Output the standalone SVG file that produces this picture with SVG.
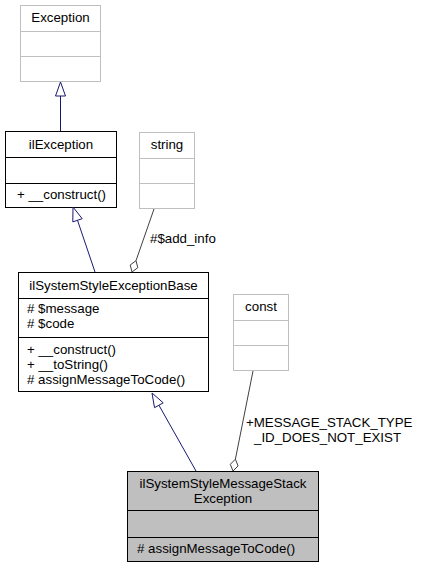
<svg xmlns="http://www.w3.org/2000/svg" width="421" height="568" viewBox="0 0 421 568">
<style>
text{font-family:"Liberation Sans",Arial,sans-serif;font-size:13.3px;fill:#000}
.c{text-anchor:middle}
.gray rect,.gray line{stroke:#bfbfbf;fill:#fff}
.blk rect,.blk line{stroke:#000;fill:#fff}
.sel rect{fill:#bfbfbf;stroke:#000}
.sel line{stroke:#000}
.gen{stroke:#191970;fill:none}
.genh{stroke:#191970;fill:#fff}
.agg{stroke:#404040;fill:none}
.aggh{stroke:#404040;fill:#fff}
</style>
<rect width="421" height="568" fill="#fff"/>
<g id="Exception" class="gray">
<rect x="20.5" y="5.5" width="80" height="76"/>
<line x1="20.5" y1="31.5" x2="100.5" y2="31.5"/>
<line x1="20.5" y1="56.5" x2="100.5" y2="56.5"/>
<text class="c" x="60.5" y="22">Exception</text>
</g>
<g id="ilException" class="blk">
<rect x="5.5" y="131.5" width="111" height="76"/>
<line x1="5.5" y1="157.5" x2="116.5" y2="157.5"/>
<line x1="5.5" y1="183.5" x2="116.5" y2="183.5"/>
<text class="c" x="61" y="149">ilException</text>
<text x="17" y="199">+ __construct()</text>
</g>
<g id="string" class="gray">
<rect x="139.5" y="132.5" width="55" height="76"/>
<line x1="139.5" y1="158.5" x2="194.5" y2="158.5"/>
<line x1="139.5" y1="183.5" x2="194.5" y2="183.5"/>
<text class="c" x="167" y="149">string</text>
</g>
<g id="ilSystemStyleExceptionBase" class="blk">
<rect x="18.5" y="272.5" width="190" height="119"/>
<line x1="18.5" y1="298.5" x2="208.5" y2="298.5"/>
<line x1="18.5" y1="337.5" x2="208.5" y2="337.5"/>
<text class="c" x="113.5" y="290">ilSystemStyleExceptionBase</text>
<text x="27" y="313"># $message</text>
<text x="27" y="328"># $code</text>
<text x="27" y="354">+ __construct()</text>
<text x="27" y="369">+ __toString()</text>
<text x="27" y="384"># assignMessageToCode()</text>
</g>
<g id="const" class="gray">
<rect x="233.5" y="294.5" width="55" height="76"/>
<line x1="233.5" y1="320.5" x2="288.5" y2="320.5"/>
<line x1="233.5" y1="345.5" x2="288.5" y2="345.5"/>
<text class="c" x="261" y="311">const</text>
</g>
<g id="ilSystemStyleMessageStackException" class="sel">
<rect x="127.5" y="471.5" width="191" height="90"/>
<line x1="127.5" y1="510.5" x2="318.5" y2="510.5"/>
<line x1="127.5" y1="537.5" x2="318.5" y2="537.5"/>
<text class="c" x="223" y="488">ilSystemStyleMessageStack</text>
<text class="c" x="223" y="503">Exception</text>
<text x="137" y="553"># assignMessageToCode()</text>
</g>
<g id="connectors">
<line class="gen" x1="60.5" y1="131" x2="60.5" y2="96"/>
<polygon class="genh" points="60.5,82 55.5,96 65.5,96"/>
<line class="gen" x1="95" y1="272" x2="77.5" y2="220.3"/>
<polygon class="genh" points="73,207 82.2,218.7 72.8,221.9"/>
<line class="gen" x1="196" y1="471" x2="158.9" y2="405.2"/>
<polygon class="genh" points="152,393 163.2,402.8 154.5,407.7"/>
<line class="agg" x1="154" y1="209" x2="136" y2="260.7"/>
<polygon class="aggh" points="132,272 130.2,265 136,260.7 137.8,267.6"/>
<text x="150" y="243">#$add_info</text>
<line class="agg" x1="253" y1="371" x2="235.4" y2="459.2"/>
<polygon class="aggh" points="233,471 230.3,464.3 235.4,459.2 238.1,465.9"/>
<text x="246" y="427">+MESSAGE_STACK_TYPE</text>
<text x="254" y="442">_ID_DOES_NOT_EXIST</text>
</g>
</svg>
